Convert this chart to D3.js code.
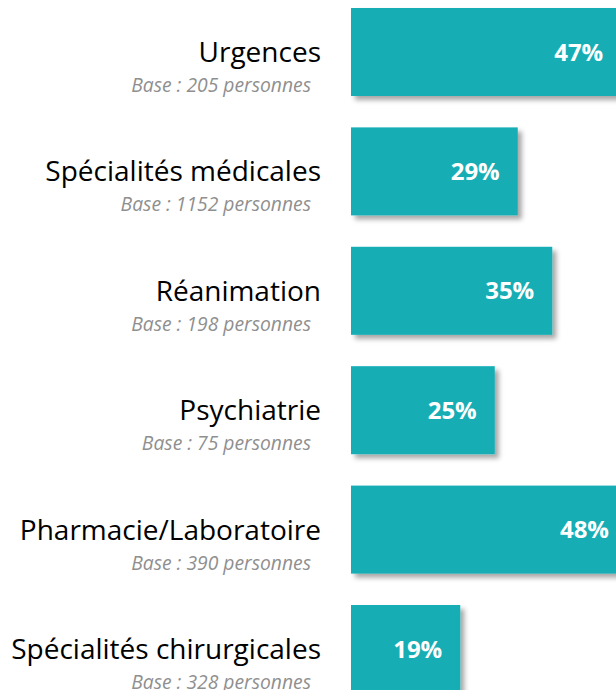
<!DOCTYPE html>
<html>
<head>
<meta charset="utf-8">
<script src="https://cdn.jsdelivr.net/npm/d3@7"></script>
<style>
  body { margin: 0; background: #fff; }
  svg { display: block; }
</style>
</head>
<body>
<div id="chart"></div>
<script>
const categories = ["Urgences", "Spécialités médicales", "Réanimation", "Psychiatrie", "Pharmacie/Laboratoire", "Spécialités chirurgicales"];
const bases = [205, 1152, 198, 75, 390, 328];
const values = [47, 29, 35, 25, 48, 19];

const data = categories.map((c, i) => ({cat: c, base: bases[i], value: values[i]}));

const width = 616, height = 690;

const svg = d3.select("#chart")
    .append("svg")
    .attr("width", width)
    .attr("height", height);

// drop shadow under the bars
const filter = svg.append("defs").append("filter")
    .attr("id", "shadow")
    .attr("x", "-10%").attr("y", "-10%")
    .attr("width", "130%").attr("height", "140%");
filter.append("feDropShadow")
    .attr("dx", 4).attr("dy", 4)
    .attr("stdDeviation", 2.5)
    .attr("flood-color", "#000")
    .attr("flood-opacity", 0.35);

//scales
const yScale = d3.scaleBand()
    .domain(categories)
    .range([8, 693])
    .paddingInner(0.263)
    .paddingOuter(0);

const xScale = d3.scaleLinear()
    .domain([0, 50])
    .range([351, 351 + 50 * 5.75]);

//bars
svg.append("g")
    .selectAll("rect")
    .data(data)
    .enter()
    .append("rect")
    .attr("x", xScale(0))
    .attr("y", d => yScale(d.cat))
    .attr("width", d => xScale(d.value) - xScale(0))
    .attr("height", yScale.bandwidth())
    .attr("fill", "#13aeb4")
    .attr("filter", "url(#shadow)");

//value labels
svg.append("g")
    .selectAll("text")
    .data(data)
    .enter()
    .append("text")
    .attr("x", d => xScale(d.value) - 18)
    .attr("y", d => yScale(d.cat) + yScale.bandwidth() / 2)
    .attr("dy", "0.36em")
    .attr("text-anchor", "end")
    .attr("fill", "#fff")
    .style("font-family", "'Open Sans', sans-serif")
    .style("font-weight", "bold")
    .style("font-size", "24px")
    .text(d => d.value + "%");

//category names
svg.append("g")
    .selectAll("text")
    .data(data)
    .enter()
    .append("text")
    .attr("x", 321)
    .attr("y", d => yScale(d.cat) + yScale.bandwidth() / 2 + 10)
    .attr("text-anchor", "end")
    .attr("fill", "#000")
    .style("font-family", "'Open Sans', sans-serif")
    .style("font-size", "28px")
    .text(d => d.cat);

//base sizes
svg.append("g")
    .selectAll("text")
    .data(data)
    .enter()
    .append("text")
    .attr("x", 311)
    .attr("y", d => yScale(d.cat) + yScale.bandwidth() / 2 + 40)
    .attr("text-anchor", "end")
    .attr("fill", "#8f8f8f")
    .style("font-family", "'Open Sans', sans-serif")
    .style("font-style", "italic")
    .style("font-size", "19.3px")
    .text(d => "Base : " + d.base + " personnes");
</script>
</body>
</html>
